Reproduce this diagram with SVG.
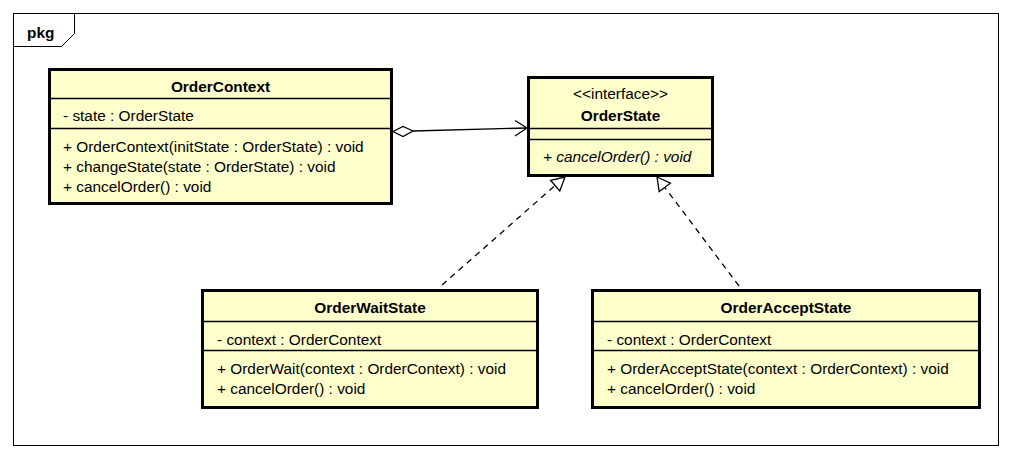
<svg xmlns="http://www.w3.org/2000/svg" width="1012" height="460" viewBox="0 0 1012 460">
<style>
text{font-family:"Liberation Sans",Arial,sans-serif;font-size:15.4px;fill:#000}
.t{font-weight:bold;text-anchor:middle}
.c{text-anchor:middle}
.i{font-style:italic}
.box{fill:#ffffcc;stroke:#000;stroke-width:3}
.sep{stroke:#000;stroke-width:1.3;fill:none}
.ln{stroke:#000;stroke-width:1.3;fill:none}
.dash{stroke:#000;stroke-width:1.3;fill:none;stroke-dasharray:6 5}
.tri{fill:#fff;stroke:#000;stroke-width:1.3}
</style>
<rect width="1012" height="460" fill="#fff"/>
<g id="frame">
<rect x="13.5" y="13.5" width="985" height="432" fill="none" stroke="#000" stroke-width="1"/>
<path d="M13.5,46.5 H61.5 L74.5,33.5 V13.5" fill="none" stroke="#000" stroke-width="1"/>
<text x="27" y="37.5" style="font-weight:bold">pkg</text>
</g>
<g id="OrderContext">
<rect class="box" x="49.5" y="69.5" width="342" height="134"/>
<line class="sep" x1="49.5" y1="98.5" x2="391.5" y2="98.5"/>
<line class="sep" x1="49.5" y1="128.5" x2="391.5" y2="128.5"/>
<text class="t" x="220.5" y="91.5">OrderContext</text>
<text x="63" y="121">- state : OrderState</text>
<text x="63" y="152">+ OrderContext(initState : OrderState) : void</text>
<text x="63" y="172">+ changeState(state : OrderState) : void</text>
<text x="63" y="192">+ cancelOrder() : void</text>
</g>
<g id="OrderState">
<rect class="box" x="528.5" y="77.5" width="184" height="98"/>
<line class="sep" x1="528.5" y1="128.5" x2="712.5" y2="128.5"/>
<line class="sep" x1="528.5" y1="139.5" x2="712.5" y2="139.5"/>
<text class="c" x="620.5" y="98.5">&lt;&lt;interface&gt;&gt;</text>
<text class="t" x="620.5" y="121">OrderState</text>
<text class="i" x="543" y="162">+ cancelOrder() : void</text>
</g>
<g id="OrderWaitState">
<rect class="box" x="202.5" y="290.5" width="335" height="117"/>
<line class="sep" x1="202.5" y1="321.5" x2="537.5" y2="321.5"/>
<line class="sep" x1="202.5" y1="350.5" x2="537.5" y2="350.5"/>
<text class="t" x="370" y="313">OrderWaitState</text>
<text x="217" y="344.5">- context : OrderContext</text>
<text x="217" y="373.5">+ OrderWait(context : OrderContext) : void</text>
<text x="217" y="393.5">+ cancelOrder() : void</text>
</g>
<g id="OrderAcceptState">
<rect class="box" x="592.5" y="290.5" width="387" height="117"/>
<line class="sep" x1="592.5" y1="321.5" x2="979.5" y2="321.5"/>
<line class="sep" x1="592.5" y1="350.5" x2="979.5" y2="350.5"/>
<text class="t" x="786" y="313">OrderAcceptState</text>
<text x="607" y="344.5">- context : OrderContext</text>
<text x="607" y="373.5">+ OrderAcceptState(context : OrderContext) : void</text>
<text x="607" y="393.5">+ cancelOrder() : void</text>
</g>
<g id="connectors">
<polygon class="tri" points="393,131.5 403,126.5 413,131 403,136.5"/>
<line class="ln" x1="413" y1="131" x2="527" y2="128"/>
<polyline class="ln" points="515,120.5 527,128 515,136"/>
<line class="dash" x1="442" y1="285" x2="555" y2="185.6"/>
<polygon class="tri" points="565,177 559.8,190.9 550.6,180.3"/>
<line class="dash" x1="739" y1="286" x2="664.8" y2="187.4"/>
<polygon class="tri" points="657,177 670.4,183.2 659.2,191.6"/>
</g>
</svg>
